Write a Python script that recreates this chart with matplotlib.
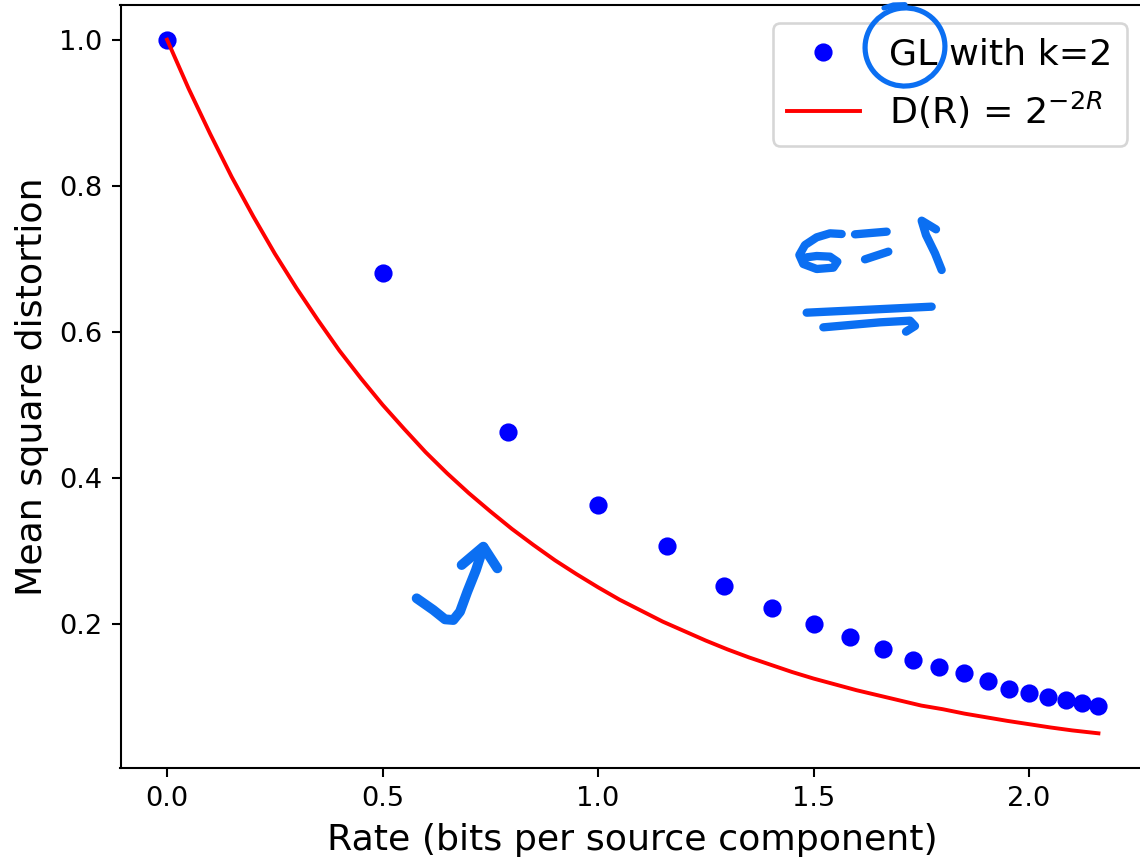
import matplotlib
matplotlib.use("Agg")
import matplotlib.pyplot as plt
from matplotlib.patches import Ellipse

# GL quantizer points (rate, distortion)
gl_rate = [0.0, 0.5, 0.792, 1.0, 1.161, 1.292, 1.404, 1.5, 1.585, 1.661,
           1.730, 1.792, 1.850, 1.904, 1.953, 2.0, 2.044, 2.085, 2.124, 2.161]
gl_dist = [1.0, 0.681, 0.463, 0.363, 0.307, 0.252, 0.221, 0.200, 0.182, 0.166,
           0.150, 0.141, 0.132, 0.121, 0.111, 0.105, 0.100, 0.095, 0.091, 0.087]

# D(R) curve
dr_rate = [0.0, 0.05, 0.1, 0.15, 0.2, 0.25, 0.3, 0.35, 0.4, 0.45, 0.5, 0.55,
           0.6, 0.65, 0.7, 0.75, 0.8, 0.85, 0.9, 0.95, 1.0, 1.05, 1.1, 1.15,
           1.2, 1.25, 1.3, 1.35, 1.4, 1.45, 1.5, 1.55, 1.6, 1.65, 1.7, 1.75,
           1.8, 1.85, 1.9, 1.95, 2.0, 2.05, 2.1, 2.161]
dr_dist = [1.0, 0.933, 0.871, 0.812, 0.758, 0.707, 0.660, 0.616, 0.574, 0.536,
           0.500, 0.467, 0.435, 0.406, 0.379, 0.354, 0.330, 0.308, 0.287, 0.268,
           0.250, 0.233, 0.218, 0.203, 0.190, 0.177, 0.165, 0.154, 0.144, 0.134,
           0.125, 0.117, 0.109, 0.102, 0.095, 0.088, 0.083, 0.077, 0.072, 0.067,
           0.0625, 0.058, 0.054, 0.050]

dpi = 187
fig = plt.figure(figsize=(1140 / dpi, 857 / dpi), dpi=dpi)
ax = fig.add_axes([120.5 / 1140, 89 / 857, 1024.5 / 1140, 763 / 857])

ax.plot(gl_rate, gl_dist, 'o', color='blue', label='GL with k=2')
ax.plot(dr_rate, dr_dist, color='red', label=r'D(R) = $2^{-2R}$')
ax.set_xlabel('Rate (bits per source component)', fontsize=14)
ax.set_ylabel('Mean square distortion', fontsize=14)
ax.tick_params(labelsize=10.5)
ax.set_xticks([0.0, 0.5, 1.0, 1.5, 2.0])
ax.set_yticks([0.2, 0.4, 0.6, 0.8, 1.0])
ax.legend(loc='upper right', fontsize=14)

# hand-drawn ink on top (pixel coords of the image)
ink = fig.add_axes([0, 0, 1, 1], zorder=10)
ink.set_xlim(0, 1140)
ink.set_ylim(857, 0)
ink.axis('off')
ink.patch.set_alpha(0)
pen = '#0b6ff2'


def stroke(pts, ox, oy, lw):
    xs = [ox + p[0] / 3 for p in pts]
    ys = [oy + p[1] / 3 for p in pts]
    ink.plot(xs, ys, color=pen, lw=lw, solid_capstyle='round', solid_joinstyle='round')


# circle round "GL"
ink.add_patch(Ellipse((905, 47), 80, 78, angle=-15, fill=False, color=pen, lw=2.0))
stroke([(372, 24), (400, 15), (435, 14)], 760, 0, 2.0)

# sigma = 1
stroke([(185, 102), (150, 100), (110, 112), (75, 135), (58, 165), (70, 192),
        (110, 207), (160, 203), (172, 185), (150, 170), (110, 168), (80, 172)],
       780, 200, 3.2)
stroke([(225, 103), (320, 95)], 780, 200, 3.2)
stroke([(255, 178), (325, 155)], 780, 200, 3.2)
stroke([(468, 88), (425, 62), (438, 105), (465, 160), (485, 210)], 780, 200, 3.2)
stroke([(80, 338), (455, 320)], 780, 200, 3.2)
stroke([(130, 382), (300, 367), (390, 362), (405, 378), (378, 395)], 780, 200, 3.2)

# arrow
stroke([(80, 235), (130, 270), (165, 298), (190, 300), (210, 275), (232, 215),
        (258, 150), (280, 82)], 390, 520, 3.8)
stroke([(215, 135), (280, 80), (322, 145)], 390, 520, 3.8)

fig.savefig('out.png', dpi=dpi)
